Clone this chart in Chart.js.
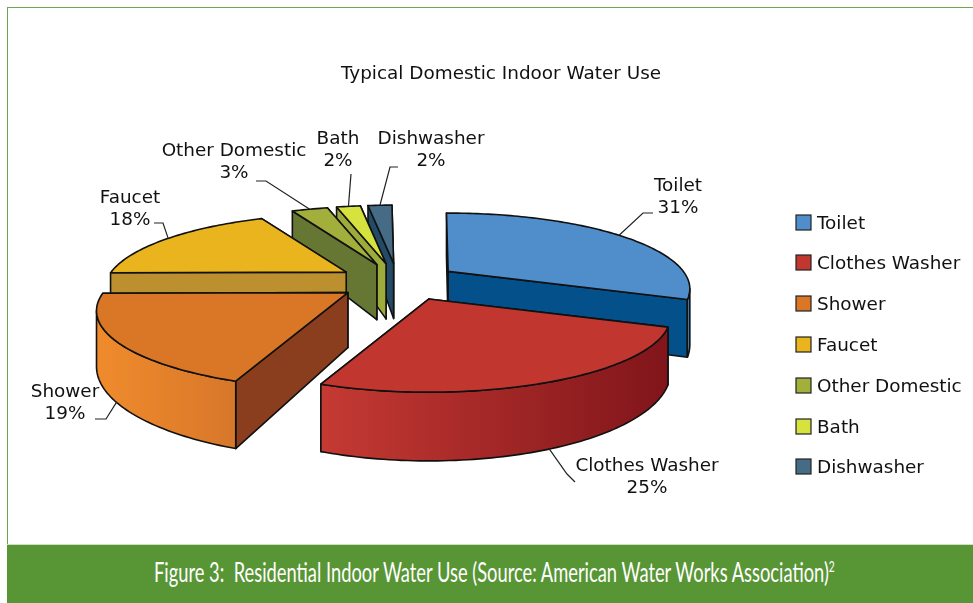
<!DOCTYPE html>
<html>
<head>
<meta charset="utf-8">
<title>Typical Domestic Indoor Water Use</title>
<script src="https://cdn.jsdelivr.net/npm/chart.js@4"></script>
<style>
  html, body { margin: 0; padding: 0; background: #fff; overflow: hidden; }
  #wrap { position: relative; width: 973px; height: 603px; }
  #frame { position: absolute; left: 7px; top: 7px; width: 966px; height: 538px; box-sizing: border-box;
           border-left: 1px solid #6fa552; border-top: 1px solid #6fa552; }
  #band { position: absolute; left: 7px; top: 544px; width: 966px; height: 59px; background: #589535; border-top: 1px solid #cfe0c4; box-sizing: border-box; }
  #caption { position: absolute; left: 154px; top: 555px; white-space: nowrap; color: #fff; font: 27px Lato, sans-serif; transform-origin: left top; }
  #caption sup { font-size: 15px; line-height: 0; }
  canvas { position: absolute; left: 0; top: 0; }
</style>
</head>
<body>
<div id="wrap">
  <div id="frame"></div>
  <div id="band"></div>
  <div id="caption">Figure 3:&nbsp; Residential Indoor Water Use (Source: American Water Works Association)<sup>2</sup></div>
  <canvas id="pieChart" width="973" height="603"></canvas>
</div>
<script>
const chartTitle = 'Typical Domestic Indoor Water Use';
const categories = ['Toilet', 'Clothes Washer', 'Shower', 'Faucet', 'Other Domestic', 'Bath', 'Dishwasher'];
const shares = [31, 25, 19, 18, 3, 2, 2];

// styles per slice
const topColors = ['#4f8ecb', '#c13730', '#d97726', '#e9b41d', '#a2af3b', '#d6e23d', '#466b86'];
const sideColors = ['#03508a', '#8e1c1c', '#8b3e1e', '#bc8f2f', '#667633', '#9dab3b', '#234a66'];
const wallFrom = ['#4f8ecb', '#c53a33', '#f08b2c', '#bc8f2f', '#7f8c30', '#a8b536', '#2f5570'];
const wallTo = ['#4f8ecb', '#80151a', '#d7772a', '#bc8f2f', '#7f8c30', '#a8b536', '#2f5570'];

// where the labels sit: text centre x, first line y, then the elbow of the leader line
const labelBoxes = [
  { x: 678, y: 186, elbow: [[643, 213], [653, 213]] },
  { x: 647, y: 466, elbow: [[567, 474], [575, 482]] },
  { x: 65, y: 392, elbow: [[106, 419], [95, 419]] },
  { x: 130, y: 198, elbow: [[163, 223], [154, 223]] },
  { x: 234, y: 151, elbow: [[266, 181], [256, 181]] },
  { x: 338, y: 139, elbow: [[351, 174]] },
  { x: 431, y: 139, elbow: [[390, 167], [398, 167]] }
];
const legendRows = [224, 264, 305, 346, 387, 428, 468];

// fake 3D view of the flat pie
const TILT = 0.305;
const PERSPECTIVE = 0.23;
const SHRINK = 0.96;
const DEPTH = 0.225;
const FONT = '18.4px "DejaVu Sans"';
const drawOrder = [6, 5, 4, 3, 2, 0, 1];
const sliceScale = [1, 1, 1.04, 1, 1, 1, 1];
const sliceNudge = [0, 6, 0, 0, 0, 0, 0];
// the rim is widest on screen at this angle, the wall is only seen between the two widest points
const SILHOUETTE = Math.asin(PERSPECTIVE);

function project(arc, i, angle, dy) {
  const R = arc.outerRadius * sliceScale[i];
  const mid = (arc.startAngle + arc.endAngle) / 2;
  const off = arc.options.offset;
  const cx = Math.cos(angle);
  const cz = Math.sin(angle);
  const s = SHRINK / (1 - PERSPECTIVE * cz);
  return [
    arc.x + sliceNudge[i] + off * Math.cos(mid) + R * cx * s,
    arc.y + TILT * off * Math.sin(mid) + TILT * R * cz * s + dy * arc.outerRadius * DEPTH * s
  ];
}

function apex(arc, i, dy) {
  const mid = (arc.startAngle + arc.endAngle) / 2;
  const off = arc.options.offset;
  return [arc.x + sliceNudge[i] + off * Math.cos(mid), arc.y + TILT * off * Math.sin(mid) + dy * arc.outerRadius * DEPTH];
}

function arcPoints(arc, i, from, to, dy) {
  const pts = [];
  const steps = Math.max(2, Math.ceil((to - from) / 0.02));
  for (let n = 0; n <= steps; n++) {
    pts.push(project(arc, i, from + (to - from) * n / steps, dy));
  }
  return pts;
}

function fillShape(ctx, pts, fill) {
  ctx.beginPath();
  pts.forEach((p, n) => (n ? ctx.lineTo(p[0], p[1]) : ctx.moveTo(p[0], p[1])));
  ctx.closePath();
  ctx.fillStyle = fill;
  ctx.fill();
  ctx.stroke();
}

const pie3d = {
  id: 'pie3d',
  beforeDatasetDraw(chart) {
    const ctx = chart.ctx;
    const arcs = chart.getDatasetMeta(0).data;
    ctx.save();
    ctx.lineWidth = 1.6;
    ctx.lineJoin = 'round';
    ctx.strokeStyle = '#111';
    drawOrder.forEach(i => {
      const arc = arcs[i];
      const a0 = apex(arc, i, 0);
      const a1 = apex(arc, i, 1);
      // radial faces back to front, then the front part of the wall, then the top face
      [arc.startAngle, arc.endAngle]
        .sort((a, b) => Math.sin(a) - Math.sin(b))
        .forEach(angle => {
          fillShape(ctx, [a0, project(arc, i, angle, 0), project(arc, i, angle, 1), a1], sideColors[i]);
        });
      const from = Math.max(arc.startAngle, SILHOUETTE);
      const to = Math.min(arc.endAngle, Math.PI - SILHOUETTE);
      if (to > from) {
        const top = arcPoints(arc, i, from, to, 0);
        const bottom = arcPoints(arc, i, from, to, 1);
        const xs = top.map(p => p[0]);
        const grad = ctx.createLinearGradient(Math.min(...xs), 0, Math.max(...xs), 0);
        grad.addColorStop(0, wallFrom[i]);
        grad.addColorStop(1, wallTo[i]);
        fillShape(ctx, top.concat(bottom.slice().reverse()), grad);
      }
      fillShape(ctx, [a0].concat(arcPoints(arc, i, arc.startAngle, arc.endAngle, 0)), arc.options.backgroundColor);
    });
    ctx.restore();
    return false;
  },
  afterDatasetsDraw(chart) {
    const ctx = chart.ctx;
    const arcs = chart.getDatasetMeta(0).data;
    ctx.save();
    ctx.font = FONT;
    ctx.textBaseline = 'middle';
    ctx.textAlign = 'center';
    ctx.lineWidth = 1.2;
    ctx.strokeStyle = '#222';
    arcs.forEach((arc, i) => {
      const box = labelBoxes[i];
      const mid = (arc.startAngle + arc.endAngle) / 2;
      // front slices hang the leader on the wall foot, back slices on the top rim
      const start = project(arc, i, mid, Math.sin(mid) > 0 ? 1 : 0);
      ctx.beginPath();
      ctx.moveTo(start[0], start[1]);
      box.elbow.forEach(p => ctx.lineTo(p[0], p[1]));
      ctx.stroke();
      ctx.fillStyle = '#111';
      ctx.fillText(categories[i], box.x, box.y);
      ctx.fillText(shares[i] + '%', box.x, box.y + 22);
    });
    // title
    ctx.fillText(chartTitle, 501, 74);
    // legend
    ctx.textAlign = 'left';
    categories.forEach((name, i) => {
      const y = legendRows[i];
      ctx.fillStyle = topColors[i];
      ctx.strokeStyle = '#222';
      ctx.lineWidth = 1.2;
      ctx.fillRect(796, y - 9, 15, 15);
      ctx.strokeRect(796, y - 9, 15, 15);
      ctx.fillStyle = '#111';
      ctx.fillText(name, 817, y);
    });
    ctx.restore();
  }
};

new Chart(document.getElementById('pieChart').getContext('2d'), {
  type: 'pie',
  data: {
    labels: categories,
    datasets: [{
      data: shares,
      backgroundColor: topColors,
      borderWidth: 1,
      offset: 61
    }]
  },
  options: {
    responsive: false,
    animation: false,
    rotation: -0.5,
    layout: { padding: { left: 122, right: 299, top: 6, bottom: 45 } },
    plugins: { legend: { display: false }, tooltip: { enabled: false } }
  },
  plugins: [pie3d]
});

// squeeze the caption into the condensed width of the original
const caption = document.getElementById('caption');
caption.style.transform = 'scaleX(' + (681 / caption.offsetWidth) + ')';
</script>
</body>
</html>
